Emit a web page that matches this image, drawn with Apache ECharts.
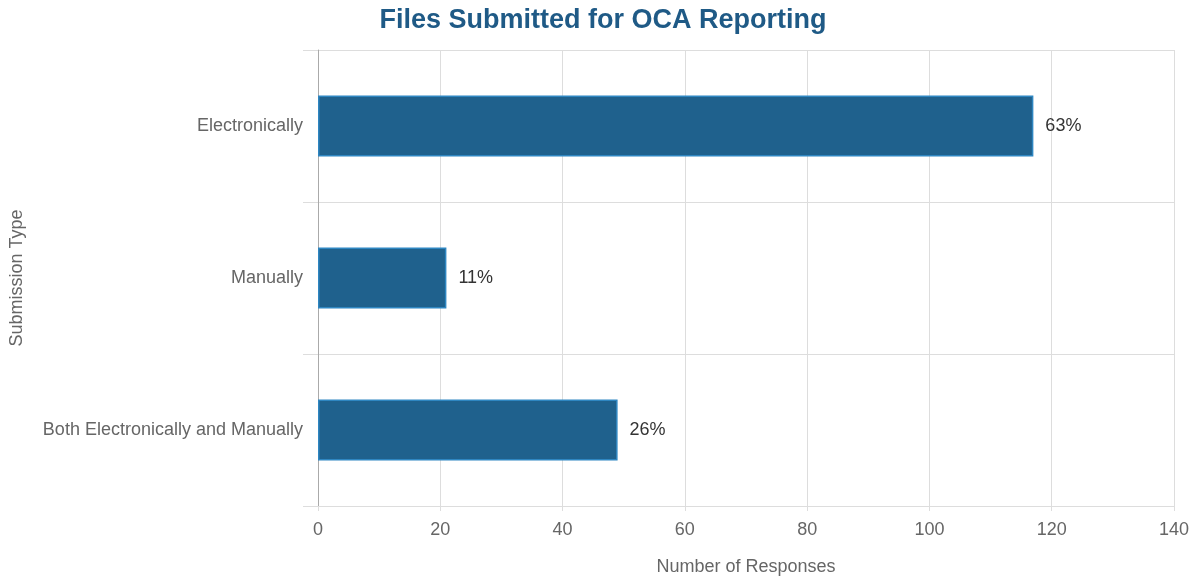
<!DOCTYPE html>
<html>
<head>
<meta charset="utf-8">
<script src="https://cdn.jsdelivr.net/npm/echarts@6/dist/echarts.min.js"></script>
<style>
  html, body { margin: 0; padding: 0; background: #fff; }
  #chart { width: 1193px; height: 577px; }
</style>
</head>
<body>
<div id="chart"></div>
<script>
// Submission types, listed top to bottom
const categories = ['Electronically', 'Manually', 'Both Electronically and Manually'];
// Number of responses per type
const responses = [117, 21, 49];
// Share of all responses shown beside each bar
const shareLabels = ['63%', '11%', '26%'];
const xTicks = [0, 20, 40, 60, 80, 100, 120, 140];

const font = '"Liberation Sans", Arial, sans-serif';
const chart = echarts.init(document.getElementById('chart'), null, { renderer: 'canvas' });

chart.setOption({
  backgroundColor: '#ffffff',
  animation: false,
  textStyle: { fontFamily: font },
  title: {
    text: 'Files Submitted for OCA Reporting',
    left: 598,
    textAlign: 'center',
    top: 2,
    textStyle: { fontFamily: font, fontSize: 27, fontWeight: 'bold', color: '#1f5a86' }
  },
  grid: {
    left: 318, right: 19, top: 50, bottom: 71,
    containLabel: false,
    outerBoundsMode: 'none'
  },
  xAxis: {
    type: 'value',
    min: xTicks[0],
    max: xTicks[xTicks.length - 1],
    interval: 20,
    name: 'Number of Responses',
    nameLocation: 'middle',
    nameGap: 52,
    nameTextStyle: { fontFamily: font, fontSize: 18, color: '#666' },
    axisLine: { show: true, lineStyle: { color: '#dddddd' } },
    axisTick: { show: true, length: 5, lineStyle: { color: '#dddddd' } },
    axisLabel: { fontFamily: font, fontSize: 18, color: '#666', margin: 15 },
    splitLine: { show: true, lineStyle: { color: '#dddddd' } }
  },
  yAxis: {
    type: 'category',
    data: categories,
    inverse: true,
    name: 'Submission Type',
    nameLocation: 'middle',
    nameGap: 292,
    nameRotate: 90,
    nameTextStyle: { fontFamily: font, fontSize: 18, color: '#666' },
    axisLine: { show: true, lineStyle: { color: '#aaaaaa' } },
    axisTick: { show: true, length: 15, alignWithLabel: false, lineStyle: { color: '#dddddd' } },
    axisLabel: { fontFamily: font, fontSize: 18, color: '#666', margin: 15 },
    splitLine: { show: true, lineStyle: { color: '#dddddd' } }
  },
  series: [{
    type: 'bar',
    data: responses,
    barWidth: 61,
    itemStyle: { color: '#1f618d', borderColor: '#2e86c1', borderWidth: 1.5 },
    label: {
      show: true,
      position: 'right',
      distance: 12,
      fontFamily: font,
      fontSize: 18,
      color: '#333',
      formatter: p => shareLabels[p.dataIndex]
    }
  }]
});
</script>
</body>
</html>
